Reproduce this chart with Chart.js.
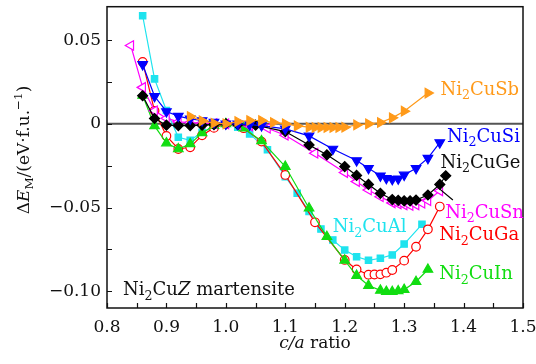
<!DOCTYPE html>
<html>
<head>
<meta charset="utf-8">
<script src="https://cdn.jsdelivr.net/npm/chart.js@4.4.1/dist/chart.umd.min.js"></script>
<style>
  html, body { margin: 0; padding: 0; background: #fff; }
  #wrap { width: 536px; height: 364px; }
</style>
</head>
<body>
<div id="wrap"><canvas id="chart" width="536" height="364"></canvas></div>
<script>
const FONT = "'DejaVu Serif', serif";

// c/a ratio and energy (eV/f.u.) for each compound
const sbX = [0.94, 0.96, 0.98, 1.00, 1.02, 1.04, 1.06, 1.08, 1.10, 1.12, 1.14, 1.15, 1.16, 1.17, 1.18, 1.19, 1.20, 1.22, 1.24, 1.26, 1.28, 1.30, 1.34];
const sbY = [0.0044, 0.0018, 0.0004, 0, 0.0014, 0.0020, 0.0020, 0.0008, 0, -0.0012, -0.0020, -0.0022, -0.0022, -0.0022, -0.0022, -0.0022, -0.0020, -0.0006, 0, 0.0008, 0.0036, 0.0076, 0.0184];

const siX = [0.86, 0.88, 0.90, 0.92, 0.94, 0.96, 0.98, 1.00, 1.02, 1.04, 1.06, 1.10, 1.14, 1.18, 1.22, 1.24, 1.26, 1.27, 1.28, 1.29, 1.30, 1.32, 1.34, 1.36];
const siY = [0.0355, 0.0165, 0.0074, 0.0046, 0.0030, 0.0020, 0.0010, 0, 0, -0.0005, -0.0010, -0.0030, -0.0072, -0.0150, -0.0219, -0.0265, -0.0310, -0.0325, -0.0331, -0.0328, -0.0305, -0.0265, -0.0205, -0.0112];

const geX = [0.86, 0.88, 0.90, 0.92, 0.94, 0.96, 0.98, 1.00, 1.02, 1.05, 1.10, 1.14, 1.17, 1.20, 1.22, 1.24, 1.26, 1.28, 1.29, 1.30, 1.31, 1.32, 1.34, 1.36, 1.37];
const geY = [0.0168, 0.0032, -0.0008, -0.0010, -0.0010, -0.0008, -0.0004, 0, -0.0004, -0.0008, -0.0046, -0.0126, -0.0185, -0.0255, -0.0308, -0.0362, -0.0415, -0.0452, -0.0457, -0.0460, -0.0460, -0.0455, -0.0425, -0.0362, -0.0310];
const gePointerX = [1.36, 1.382];
const gePointerY = [-0.0390, -0.0455];

const snX = [0.84, 0.86, 0.88, 0.90, 0.92, 0.94, 0.96, 0.98, 1.00, 1.02, 1.04, 1.07, 1.10, 1.15, 1.20, 1.22, 1.24, 1.26, 1.28, 1.29, 1.30, 1.31, 1.32, 1.33, 1.34, 1.36];
const snY = [0.0468, 0.0218, 0.0078, 0.0034, 0.0012, 0.0008, 0.0005, 0.0002, 0, -0.0005, -0.0012, -0.0026, -0.0068, -0.0175, -0.0291, -0.0345, -0.0395, -0.0435, -0.0472, -0.0478, -0.0484, -0.0488, -0.0484, -0.0474, -0.0459, -0.0400];

const alX = [0.86, 0.88, 0.90, 0.92, 0.94, 0.96, 0.98, 1.00, 1.02, 1.04, 1.07, 1.10, 1.12, 1.14, 1.16, 1.18, 1.20, 1.22, 1.24, 1.26, 1.28, 1.30, 1.33];
const alY = [0.0646, 0.0269, 0.0080, -0.0080, -0.0098, -0.0050, -0.0020, 0, -0.0020, -0.0060, -0.0155, -0.0315, -0.0415, -0.0524, -0.0628, -0.0694, -0.0754, -0.0794, -0.0815, -0.0803, -0.0783, -0.0718, -0.0600];

const gaX = [0.86, 0.88, 0.90, 0.92, 0.94, 0.96, 0.98, 1.00, 1.03, 1.06, 1.10, 1.15, 1.20, 1.22, 1.24, 1.25, 1.26, 1.27, 1.28, 1.30, 1.32, 1.34, 1.36];
const gaY = [0.0370, 0.0078, -0.0072, -0.0150, -0.0140, -0.0068, -0.0024, 0, -0.0026, -0.0106, -0.0305, -0.0588, -0.0813, -0.0870, -0.0901, -0.0900, -0.0899, -0.0889, -0.0873, -0.0817, -0.0734, -0.0630, -0.0494];

const inX = [0.86, 0.88, 0.90, 0.92, 0.94, 0.96, 0.98, 1.00, 1.03, 1.06, 1.10, 1.14, 1.17, 1.20, 1.22, 1.24, 1.26, 1.27, 1.28, 1.29, 1.30, 1.32, 1.34];
const inY = [0.0170, -0.0012, -0.0115, -0.0150, -0.0120, -0.0054, -0.0010, 0, -0.0026, -0.0102, -0.0255, -0.0504, -0.0674, -0.0815, -0.0906, -0.0966, -0.0995, -0.1002, -0.1003, -0.0998, -0.0990, -0.0943, -0.0870];

const xTickVals = [0.8, 0.85, 0.9, 0.95, 1.0, 1.05, 1.1, 1.15, 1.2, 1.25, 1.3, 1.35, 1.4, 1.45, 1.5];
const yTickVals = [-0.1, -0.075, -0.05, -0.025, 0, 0.025, 0.05];

function pts(xs, ys) {
  return xs.map((x, i) => ({ x, y: ys[i] }));
}

function isMajor(v, step) {
  const r = v / step;
  return Math.abs(r - Math.round(r)) < 1e-6;
}

function series(data, color, style, rotation, radius, open) {
  return {
    data,
    borderColor: color,
    borderWidth: 1.2,
    pointStyle: style,
    rotation,
    pointRadius: radius,
    pointBorderColor: color,
    pointBackgroundColor: open ? '#fff' : color,
    pointBorderWidth: 1.2,
    tension: 0,
  };
}

function drawRich(ctx, x, y, parts, size, color) {
  let cx = x;
  ctx.fillStyle = color;
  ctx.textBaseline = 'alphabetic';
  ctx.textAlign = 'left';
  parts.forEach(([txt, kind, italic]) => {
    const fs = kind ? size * 0.7 : size;
    ctx.font = `${italic ? 'italic ' : ''}${fs}px ${FONT}`;
    const dy = kind === 'sub' ? size * 0.25 : kind === 'sup' ? -size * 0.42 : 0;
    ctx.fillText(txt, cx, y + dy);
    cx += ctx.measureText(txt).width;
  });
  return cx - x;
}

function richWidth(ctx, parts, size) {
  let w = 0;
  parts.forEach(([txt, kind, italic]) => {
    const fs = kind ? size * 0.7 : size;
    ctx.font = `${italic ? 'italic ' : ''}${fs}px ${FONT}`;
    w += ctx.measureText(txt).width;
  });
  return w;
}

const labels = [
  { x: 1.361, y: 0.0173, parts: [['Ni'], ['2', 'sub'], ['CuSb']], color: '#ff9a1a' },
  { x: 1.372, y: -0.0108, parts: [['Ni'], ['2', 'sub'], ['CuSi']], color: '#0000ff' },
  { x: 1.361, y: -0.0263, parts: [['Ni'], ['2', 'sub'], ['CuGe']], color: '#111' },
  { x: 1.369, y: -0.0562, parts: [['Ni'], ['2', 'sub'], ['CuSn']], color: '#ff00ff' },
  { x: 1.180, y: -0.0646, parts: [['Ni'], ['2', 'sub'], ['CuAl']], color: '#1ee3ee' },
  { x: 1.359, y: -0.0694, parts: [['Ni'], ['2', 'sub'], ['CuGa']], color: '#ff0000' },
  { x: 1.359, y: -0.0927, parts: [['Ni'], ['2', 'sub'], ['CuIn']], color: '#11dd11' },
  { x: 0.827, y: -0.1023, parts: [['Ni'], ['2', 'sub'], ['Cu'], ['Z', '', true], [' martensite']], color: '#111' },
];

const framePlugin = {
  id: 'frame',
  beforeDatasetsDraw(chart) {
    const { ctx, chartArea: a, scales: { y } } = chart;
    const y0 = y.getPixelForValue(0);
    ctx.save();
    ctx.strokeStyle = '#555';
    ctx.lineWidth = 2;
    ctx.beginPath();
    ctx.moveTo(a.left, y0);
    ctx.lineTo(a.right, y0);
    ctx.stroke();
    ctx.restore();
  },
  afterDraw(chart) {
    const { ctx, chartArea: a, scales: { x, y } } = chart;
    ctx.save();
    ctx.strokeStyle = '#111';
    ctx.lineWidth = 1.5;
    ctx.strokeRect(a.left, a.top, a.right - a.left, a.bottom - a.top);

    ctx.lineWidth = 1.2;
    ctx.beginPath();
    yTickVals.forEach(v => {
      const py = Math.round(y.getPixelForValue(v)) + 0.5;
      ctx.moveTo(a.left, py);
      ctx.lineTo(a.left + 5, py);
    });
    xTickVals.forEach(v => {
      const px = Math.round(x.getPixelForValue(v)) + 0.5;
      ctx.moveTo(px, a.bottom);
      ctx.lineTo(px, a.bottom - 5);
    });
    ctx.stroke();

    labels.forEach(l => {
      drawRich(ctx, x.getPixelForValue(l.x), y.getPixelForValue(l.y), l.parts, 18, l.color);
    });

    // x title
    const xt = [['c/a', '', true], [' ratio']];
    const xw = richWidth(ctx, xt, 17);
    drawRich(ctx, (a.left + a.right) / 2 - xw / 2, 348, xt, 17, '#111');

    // y title
    const yt = [['Δ'], ['E', '', true], ['M', 'sub'], ['/(eV·f.u.'], ['−1', 'sup'], [')']];
    const yw = richWidth(ctx, yt, 17);
    ctx.translate(29, 150);
    ctx.rotate(-Math.PI / 2);
    drawRich(ctx, -yw / 2, 0, yt, 17, '#111');
    ctx.restore();
  },
};

function noPad(s) {
  s.paddingTop = 0;
  s.paddingBottom = 0;
  s.paddingLeft = 0;
  s.paddingRight = 0;
}

new Chart(document.getElementById('chart'), {
  type: 'line',
  data: {
    datasets: [
      series(pts(sbX, sbY), '#ff9a1a', 'triangle', 90, 5.5, false),
      series(pts(siX, siY), '#0000ff', 'triangle', 180, 5.5, false),
      series(pts(geX, geY), '#000000', 'rectRot', 0, 5, false),
      Object.assign(series(pts(gePointerX, gePointerY), '#000000', 'circle', 0, 0, false), { pointRadius: 0 }),
      series(pts(snX, snY), '#ff00ff', 'triangle', -90, 5.5, true),
      series(pts(inX, inY), '#11dd11', 'triangle', 0, 5.5, false),
      series(pts(gaX, gaY), '#ff0000', 'circle', 0, 4.3, true),
      series(pts(alX, alY), '#1ee3ee', 'rect', 0, 4.5, false),
    ],
  },
  options: {
    responsive: false,
    animation: false,
    layout: { padding: { left: 0, right: 13, top: 6, bottom: 0 } },
    plugins: { legend: { display: false }, tooltip: { enabled: false } },
    scales: {
      x: {
        type: 'linear',
        min: 0.8,
        max: 1.5,
        afterBuildTicks: s => { s.ticks = xTickVals.map(v => ({ value: v })); },
        afterFit: s => { s.height = 56; noPad(s); },
        grid: { display: false, drawTicks: false },
        border: { display: false },
        ticks: {
          autoSkip: false,
          maxRotation: 0,
          padding: 9,
          color: '#111',
          font: { family: FONT, size: 17 },
          callback: v => (isMajor(v, 0.1) ? v.toFixed(1) : ''),
        },
      },
      y: {
        type: 'linear',
        min: -0.11,
        max: 0.07,
        afterBuildTicks: s => { s.ticks = yTickVals.map(v => ({ value: v })); },
        afterFit: s => { s.width = 107; noPad(s); },
        grid: { display: false, drawTicks: false },
        border: { display: false },
        ticks: {
          padding: 6,
          color: '#111',
          font: { family: FONT, size: 17 },
          callback: v => {
            if (!isMajor(v, 0.05)) return '';
            if (Math.abs(v) < 1e-9) return '0';
            return (v < 0 ? '−' : '') + Math.abs(v).toFixed(2);
          },
        },
      },
    },
  },
  plugins: [framePlugin],
});
</script>
</body>
</html>
